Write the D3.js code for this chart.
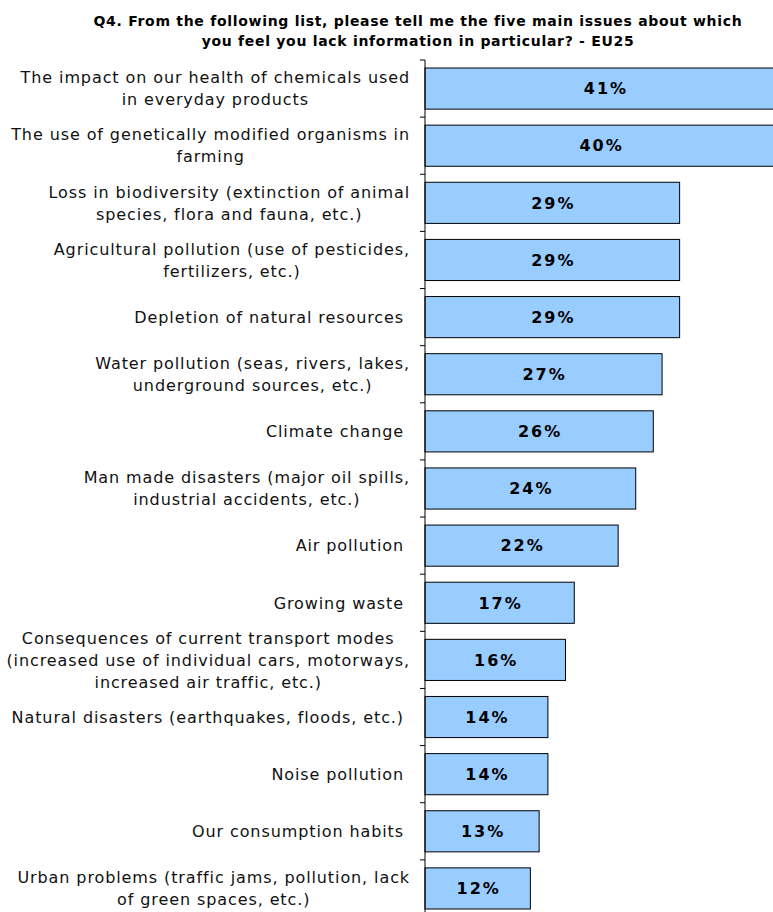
<!DOCTYPE html>
<html><head><meta charset="utf-8">
<script src="https://cdn.jsdelivr.net/npm/d3@7"></script>
<style>body{margin:0;background:#fff}svg{display:block}</style>
</head><body>
<svg id="c" width="773" height="912"></svg>
<script>
const titleLines = ["Q4. From the following list, please tell me the five main issues about which",
  "you feel you lack information in particular? - EU25"];
const categories = [
  ["The impact on our health of chemicals used", "in everyday products"],
  ["The use of genetically modified organisms in", "farming"],
  ["Loss in biodiversity (extinction of animal", "species, flora and fauna, etc.)"],
  ["Agricultural pollution (use of pesticides,", "fertilizers, etc.)"],
  ["Depletion of natural resources "],
  ["Water pollution (seas, rivers, lakes,", "underground sources, etc.)"],
  ["Climate change "],
  ["Man made disasters (major oil spills,", "industrial accidents, etc.)"],
  ["Air pollution "],
  ["Growing waste "],
  ["Consequences of current transport modes", "(increased use of individual cars, motorways,", "increased air traffic, etc.)"],
  ["Natural disasters (earthquakes, floods, etc.) "],
  ["Noise pollution "],
  ["Our consumption habits "],
  ["Urban problems (traffic jams, pollution, lack", "of green spaces, etc.)"]
];
const values = [41, 40, 29, 29, 29, 27, 26, 24, 22, 17, 16, 14, 14, 13, 12];

const svg = d3.select("#c");
const font = "'DejaVu Sans', Verdana, sans-serif";
const x0 = 425;
const x = d3.scaleLinear().domain([0, 10]).range([x0, x0 + 87.8]);
const idx = d3.range(values.length);
const y = d3.scaleBand().domain(idx).range([60, 917]).paddingInner(0.28).paddingOuter(0.14);

// title
svg.append("g").selectAll("text").data(titleLines).join("text")
  .attr("x", 418).attr("y", (d, i) => 26 + i * 20)
  .attr("text-anchor", "middle").attr("font-family", font).attr("font-weight", "bold")
  .attr("font-size", 14).attr("letter-spacing", "0.7px").attr("fill", "#000").text(d => d);

// bars
svg.append("g").selectAll("rect").data(idx).join("rect")
  .attr("x", x(0)).attr("y", i => y(i)).attr("width", i => x(values[i]) - x(0))
  .attr("height", y.bandwidth()).attr("fill", "#99CCFF").attr("stroke", "#000").attr("stroke-width", 1);

// value labels
svg.append("g").selectAll("text").data(idx).join("text")
  .attr("x", i => (x(0) + x(values[i])) / 2 + 1).attr("y", i => y(i) + y.bandwidth() / 2)
  .attr("dy", "0.36em").attr("text-anchor", "middle").attr("font-family", font)
  .attr("font-weight", "bold").attr("font-size", 16).attr("letter-spacing", "2px").attr("fill", "#000")
  .text(i => values[i] + "%");

// axis
const step = y.step();
const bounds = d3.range(values.length + 1).map(i => y(0) - y.paddingOuter() * step + i * step);
const ax = svg.append("g");
ax.append("line").attr("x1", x0).attr("x2", x0).attr("y1", bounds[0]).attr("y2", 912).attr("stroke", "#000");
ax.selectAll("line.t").data(bounds).join("line").attr("class", "t")
  .attr("x1", x0 - 5).attr("x2", x0).attr("y1", d => d).attr("y2", d => d).attr("stroke", "#000");

// category labels
const lg = svg.append("g");
const lineH = 22;
categories.forEach((lines, i) => {
  const g = lg.append("g");
  const ts = lines.map((l, k) => g.append("text").attr("font-family", font).attr("font-size", 16)
    .attr("letter-spacing", "0.9px").attr("fill", "#111").attr("text-anchor", "middle")
    .attr("xml:space", "preserve").text(l));
  const maxW = d3.max(ts, t => t.node().getComputedTextLength());
  const cx = 410 - maxW / 2;
  const cy = y(i) + y.bandwidth() / 2;
  const n = lines.length;
  ts.forEach((t, k) => t.attr("x", cx).attr("y", cy + (k - (n - 1) / 2) * lineH).attr("dy", "0.36em"));
});
</script>
</body></html>
